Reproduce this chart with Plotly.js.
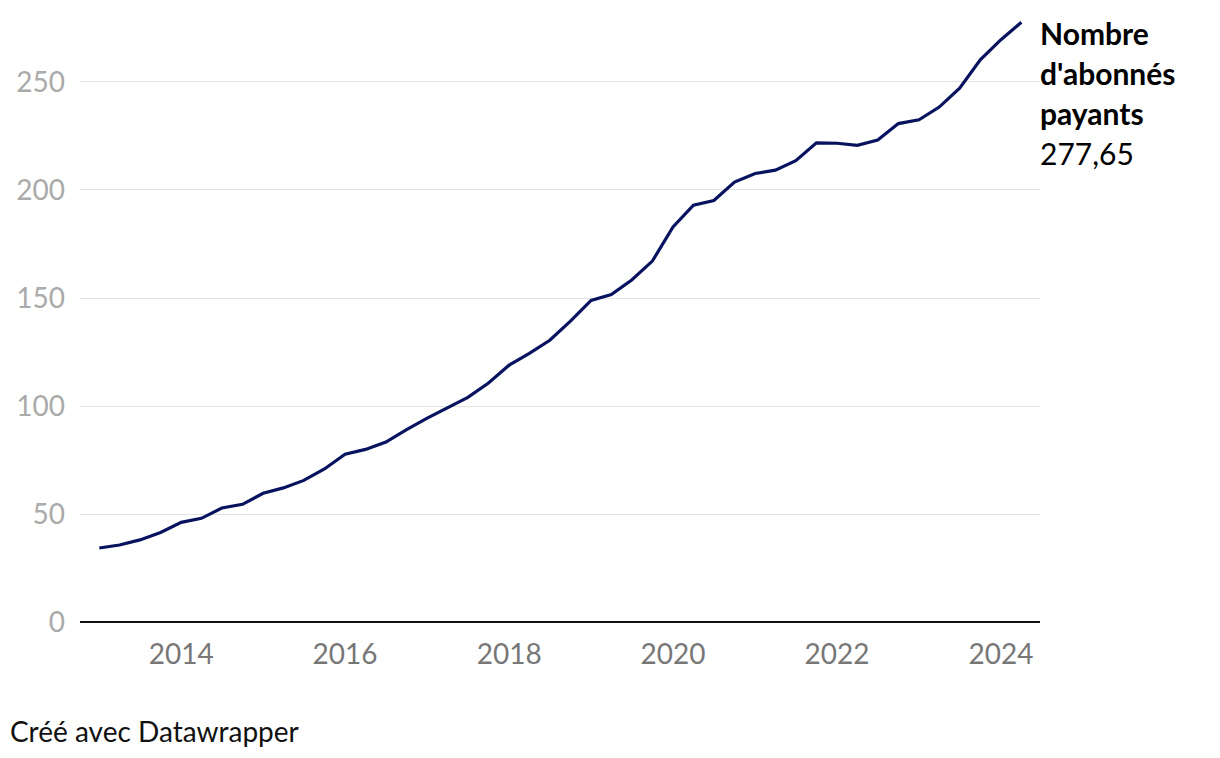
<!DOCTYPE html>
<html>
<head>
<meta charset="utf-8">
<script src="https://cdn.plot.ly/plotly-3.0.1.min.js"></script>
<style>
html,body{margin:0;padding:0;background:#fff;}
#chart{width:1220px;height:758px;}
</style>
</head>
<body>
<div id="chart"></div>
<script>
// Quarter start dates (Q1 2013 .. Q2 2024)
const quarters = [
 "2013-01-01","2013-04-01","2013-07-01","2013-10-01",
 "2014-01-01","2014-04-01","2014-07-01","2014-10-01",
 "2015-01-01","2015-04-01","2015-07-01","2015-10-01",
 "2016-01-01","2016-04-01","2016-07-01","2016-10-01",
 "2017-01-01","2017-04-01","2017-07-01","2017-10-01",
 "2018-01-01","2018-04-01","2018-07-01","2018-10-01",
 "2019-01-01","2019-04-01","2019-07-01","2019-10-01",
 "2020-01-01","2020-04-01","2020-07-01","2020-10-01",
 "2021-01-01","2021-04-01","2021-07-01","2021-10-01",
 "2022-01-01","2022-04-01","2022-07-01","2022-10-01",
 "2023-01-01","2023-04-01","2023-07-01","2023-10-01",
 "2024-01-01","2024-04-01"
];
// Paid subscribers (millions)
const subscribers = [
 34.24, 35.64, 38.01, 41.43,
 46.13, 47.99, 52.77, 54.48,
 59.62, 62.08, 65.55, 70.84,
 77.71, 79.90, 83.28, 89.09,
 94.36, 99.04, 104.02, 110.64,
 118.90, 124.35, 130.42, 139.26,
 148.86, 151.56, 158.33, 167.09,
 182.86, 192.95, 195.15, 203.66,
 207.64, 209.18, 213.56, 221.84,
 221.64, 220.67, 223.09, 230.75,
 232.50, 238.39, 247.15, 260.28,
 269.60, 277.65
];
const seriesName = "Nombre d'abonnés payants";
const lastLabel = "277,65";
const yTicks = [0, 50, 100, 150, 200, 250];
const xTicks = ["2014-01-01","2016-01-01","2018-01-01","2020-01-01","2022-01-01","2024-01-01"];
const xTickText = ["2014","2016","2018","2020","2022","2024"];

const FONT = "Lato, 'Open Sans', sans-serif";
const mTop = 20, mBottom = 136, H = 758;
const plotH = H - mTop - mBottom;
function py(pix){ return (H - mBottom - pix) / plotH; }

const trace = {
  x: quarters, y: subscribers, type: "scatter", mode: "lines",
  name: seriesName,
  line: {color: "#08135f", width: 3.2},
  hoverinfo: "x+y"
};

const annotations = [
  {text: "<b>Nombre</b>", y: py(33)},
  {text: "<b>d'abonnés</b>", y: py(73)},
  {text: "<b>payants</b>", y: py(113)},
  {text: lastLabel, y: py(153)}
].map(a => ({
  text: a.text, xref: "paper", yref: "paper", x: 1.0, y: a.y,
  xanchor: "left", yanchor: "middle", showarrow: false, xshift: -2,
  font: {family: FONT, size: 30, color: "#000"}
}));
annotations.push({
  text: "Créé avec Datawrapper", xref: "paper", yref: "paper",
  x: -80/960, y: py(731), xanchor: "left", yanchor: "middle", xshift: 8,
  showarrow: false, font: {family: FONT, size: 28, color: "#111"}
});

const layout = {
  width: 1220, height: 758,
  margin: {l: 80, r: 180, t: mTop, b: mBottom, pad: 0},
  paper_bgcolor: "#fff", plot_bgcolor: "#fff",
  showlegend: false,
  font: {family: FONT},
  xaxis: {
    type: "date",
    range: ["2012-10-07", "2024-06-23"],
    tickvals: xTicks, ticktext: xTickText,
    showgrid: false, zeroline: false, showline: false,
    ticks: "", ticklabelstandoff: 13,
    tickfont: {family: FONT, size: 28, color: "#777"}
  },
  yaxis: {
    range: [0, 278.7],
    tickvals: yTicks,
    showgrid: true, gridcolor: "#e3e3e3", gridwidth: 1,
    zeroline: true, zerolinecolor: "#111", zerolinewidth: 2,
    showline: false, ticks: "", ticklabelstandoff: 14,
    tickfont: {family: FONT, size: 28, color: "#aaa"}
  },
  annotations: annotations
};

Plotly.newPlot("chart", [trace], layout, {displayModeBar: false});
</script>
</body>
</html>
